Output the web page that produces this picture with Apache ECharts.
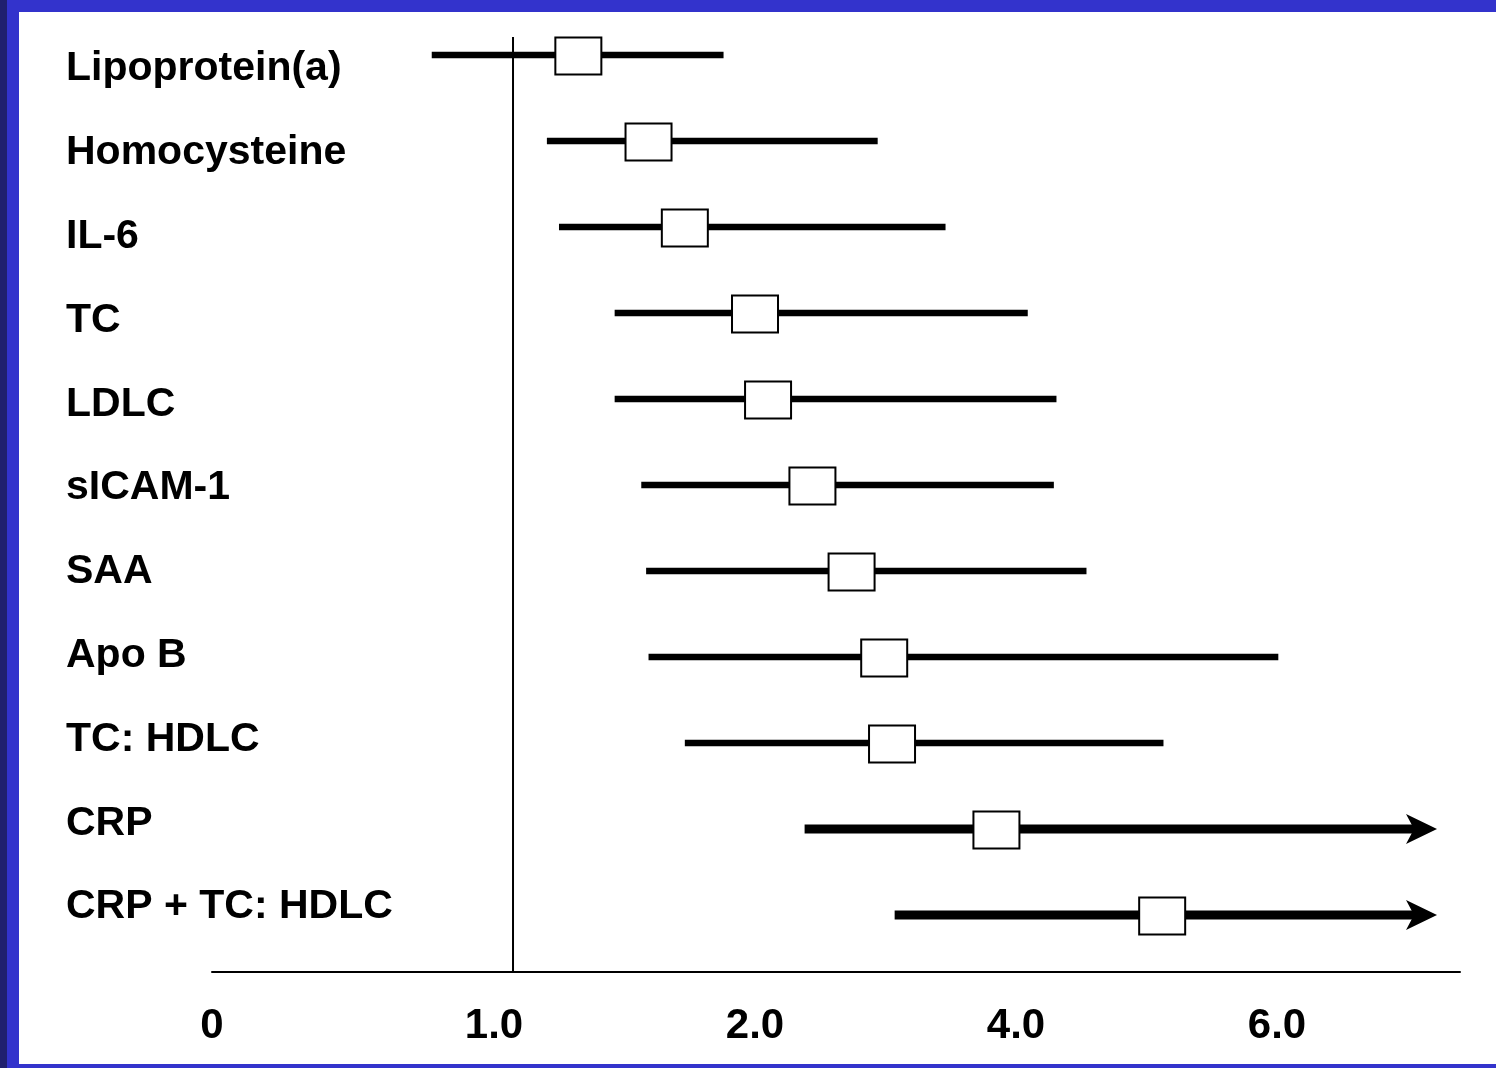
<!DOCTYPE html>
<html>
<head>
<meta charset="utf-8">
<title>Relative risk by marker</title>
<script src="https://cdn.jsdelivr.net/npm/echarts@6/dist/echarts.min.js"></script>
<style>
  html, body { margin: 0; padding: 0; background: #ffffff; }
  #chart { width: 1496px; height: 1068px; }
</style>
</head>
<body>
<div id="chart"></div>
<script>
// Markers, top to bottom
const categories = [
  'Lipoprotein(a)', 'Homocysteine', 'IL-6', 'TC', 'LDLC', 'sICAM-1',
  'SAA', 'Apo B', 'TC: HDLC', 'CRP', 'CRP + TC: HDLC'
];
// Relative risk (point estimate) and 95% interval; null upper = runs past the axis
const relativeRisk = [1.27, 1.56, 1.71, 2.00, 2.10, 2.44, 2.74, 2.99, 3.05, 3.85, 5.12];
const ciLower      = [0.73, 1.14, 1.19, 1.42, 1.42, 1.53, 1.55, 1.56, 1.71, 2.38, 3.07];
const ciUpper      = [1.87, 2.94, 3.46, 4.09, 4.31, 4.29, 4.54, 6.01, 5.13, null, null];

// Axis ticks and their labels
const tickValues = [0, 1, 2, 4, 6];
const tickLabels = ['0', '1.0', '2.0', '4.0', '6.0'];

// Compressed display scale: relative risk -> axis units (piecewise linear between knots)
const scaleKnotsRR  = [0, 1, 2, 4, 6];
const scaleKnotsPos = [0, 1.1533, 2.0805, 3.0805, 4.0805];
const axisMaxPos = 4.7816;
const openEndRR = 7.226;   // where open-ended intervals stop (arrow tip)

function toPos(rr) {
  const k = scaleKnotsRR, p = scaleKnotsPos;
  for (let i = 0; i < k.length - 1; i++) {
    if (rr <= k[i + 1]) {
      return p[i] + (rr - k[i]) * (p[i + 1] - p[i]) / (k[i + 1] - k[i]);
    }
  }
  const n = k.length - 1;
  return p[n] + (rr - k[n]) * (p[n] - p[n - 1]) / (k[n] - k[n - 1]);
}

const rows = categories.map((c, i) => {
  const open = ciUpper[i] == null;
  return [i, toPos(ciLower[i]), toPos(relativeRisk[i]), toPos(open ? openEndRR : ciUpper[i]), open ? 1 : 0];
});

const FONT = '"Liberation Sans", Arial, Helvetica, sans-serif';
const AXIS_GAP = 14;

function renderRow(params, api) {
  const idx = api.value(0);
  const open = api.value(4) === 1;
  const pLo = api.coord([api.value(1), idx]);
  const pMid = api.coord([api.value(2), idx]);
  const pHi = api.coord([api.value(3), idx]);
  const y = pLo[1];
  const children = [];
  const headLen = 31, headHalf = 15, notch = 8;
  const lineEnd = open ? pHi[0] - headLen + notch : pHi[0];
  children.push({
    type: 'line',
    shape: { x1: pLo[0], y1: y, x2: lineEnd, y2: y },
    style: { stroke: '#000', lineWidth: open ? 9 : 6.5, lineCap: 'butt' }
  });
  if (open) {
    const tip = pHi[0];
    children.push({
      type: 'polygon',
      shape: { points: [[tip, y], [tip - headLen, y - headHalf], [tip - headLen + notch, y], [tip - headLen, y + headHalf]] },
      style: { fill: '#000' }
    });
  }
  const bw = 46, bh = 37;
  children.push({
    type: 'rect',
    shape: { x: pMid[0] - bw / 2, y: y - bh / 2 + 1, width: bw, height: bh },
    style: { fill: '#fff', stroke: '#000', lineWidth: 2 }
  });
  return { type: 'group', children };
}

function renderNullLine(params, api) {
  const x = api.coord([api.value(0), 0])[0];
  const cs = params.coordSys;
  return {
    type: 'line',
    shape: { x1: x, y1: cs.y + 25, x2: x, y2: cs.y + cs.height + AXIS_GAP },
    style: { stroke: '#000', lineWidth: 2 }
  };
}

const chart = echarts.init(document.getElementById('chart'), null, { renderer: 'canvas' });

chart.setOption({
  backgroundColor: '#ffffff',
  animation: false,
  graphic: [
    { type: 'rect', shape: { x: 0, y: 0, width: 1496, height: 12 }, style: { fill: '#3333cc' }, silent: true },
    { type: 'rect', shape: { x: 0, y: 1064, width: 1496, height: 4 }, style: { fill: '#3333cc' }, silent: true },
    { type: 'rect', shape: { x: 0, y: 0, width: 19, height: 1068 }, style: { fill: '#3333cc' }, silent: true },
    { type: 'rect', shape: { x: 0, y: 0, width: 7, height: 1068 }, style: { fill: '#20206e' }, silent: true }
  ],
  grid: [
    { left: 212, right: 36, top: 12.1, bottom: 109.9 },
    { left: 66, width: 10, top: 27.1, bottom: 119 }
  ],
  xAxis: [
    {
      gridIndex: 0,
      type: 'value',
      min: 0,
      max: axisMaxPos,
      offset: AXIS_GAP,
      splitLine: { show: false },
      axisTick: { show: false },
      axisLine: { show: true, lineStyle: { color: '#000', width: 2 } },
      axisLabel: {
        customValues: tickValues.map(toPos),
        margin: 33,
        color: '#000',
        fontSize: 42,
        fontWeight: 'bold',
        fontFamily: FONT,
        hideOverlap: false,
        formatter: function (val) {
          let k = 0;
          tickValues.forEach((t, i) => { if (Math.abs(toPos(t) - val) < 1e-6) k = i; });
          return tickValues[k] === 1 ? '{shift|' + tickLabels[k] + '}' : tickLabels[k];
        },
        rich: {
          shift: { padding: [0, 38, 0, 0], fontSize: 42, fontWeight: 'bold', fontFamily: FONT, color: '#000' }
        }
      }
    },
    { gridIndex: 1, type: 'value', show: false }
  ],
  yAxis: [
    { gridIndex: 0, type: 'category', data: categories, inverse: true, show: false },
    {
      gridIndex: 1,
      type: 'category',
      data: categories,
      inverse: true,
      axisLine: { show: false },
      axisTick: { show: false },
      splitLine: { show: false },
      axisLabel: {
        inside: true,
        margin: 0,
        color: '#000',
        fontSize: 41,
        fontWeight: 'bold',
        fontFamily: FONT,
        interval: 0
      }
    }
  ],
  series: [
    {
      type: 'custom',
      xAxisIndex: 0,
      yAxisIndex: 0,
      renderItem: renderNullLine,
      data: [[toPos(1)]],
      encode: { x: 0 },
      silent: true,
      z: 1
    },
    {
      type: 'custom',
      xAxisIndex: 0,
      yAxisIndex: 0,
      renderItem: renderRow,
      data: rows,
      encode: { x: [1, 2, 3], y: 0 },
      silent: true,
      z: 2
    }
  ]
});
</script>
</body>
</html>
